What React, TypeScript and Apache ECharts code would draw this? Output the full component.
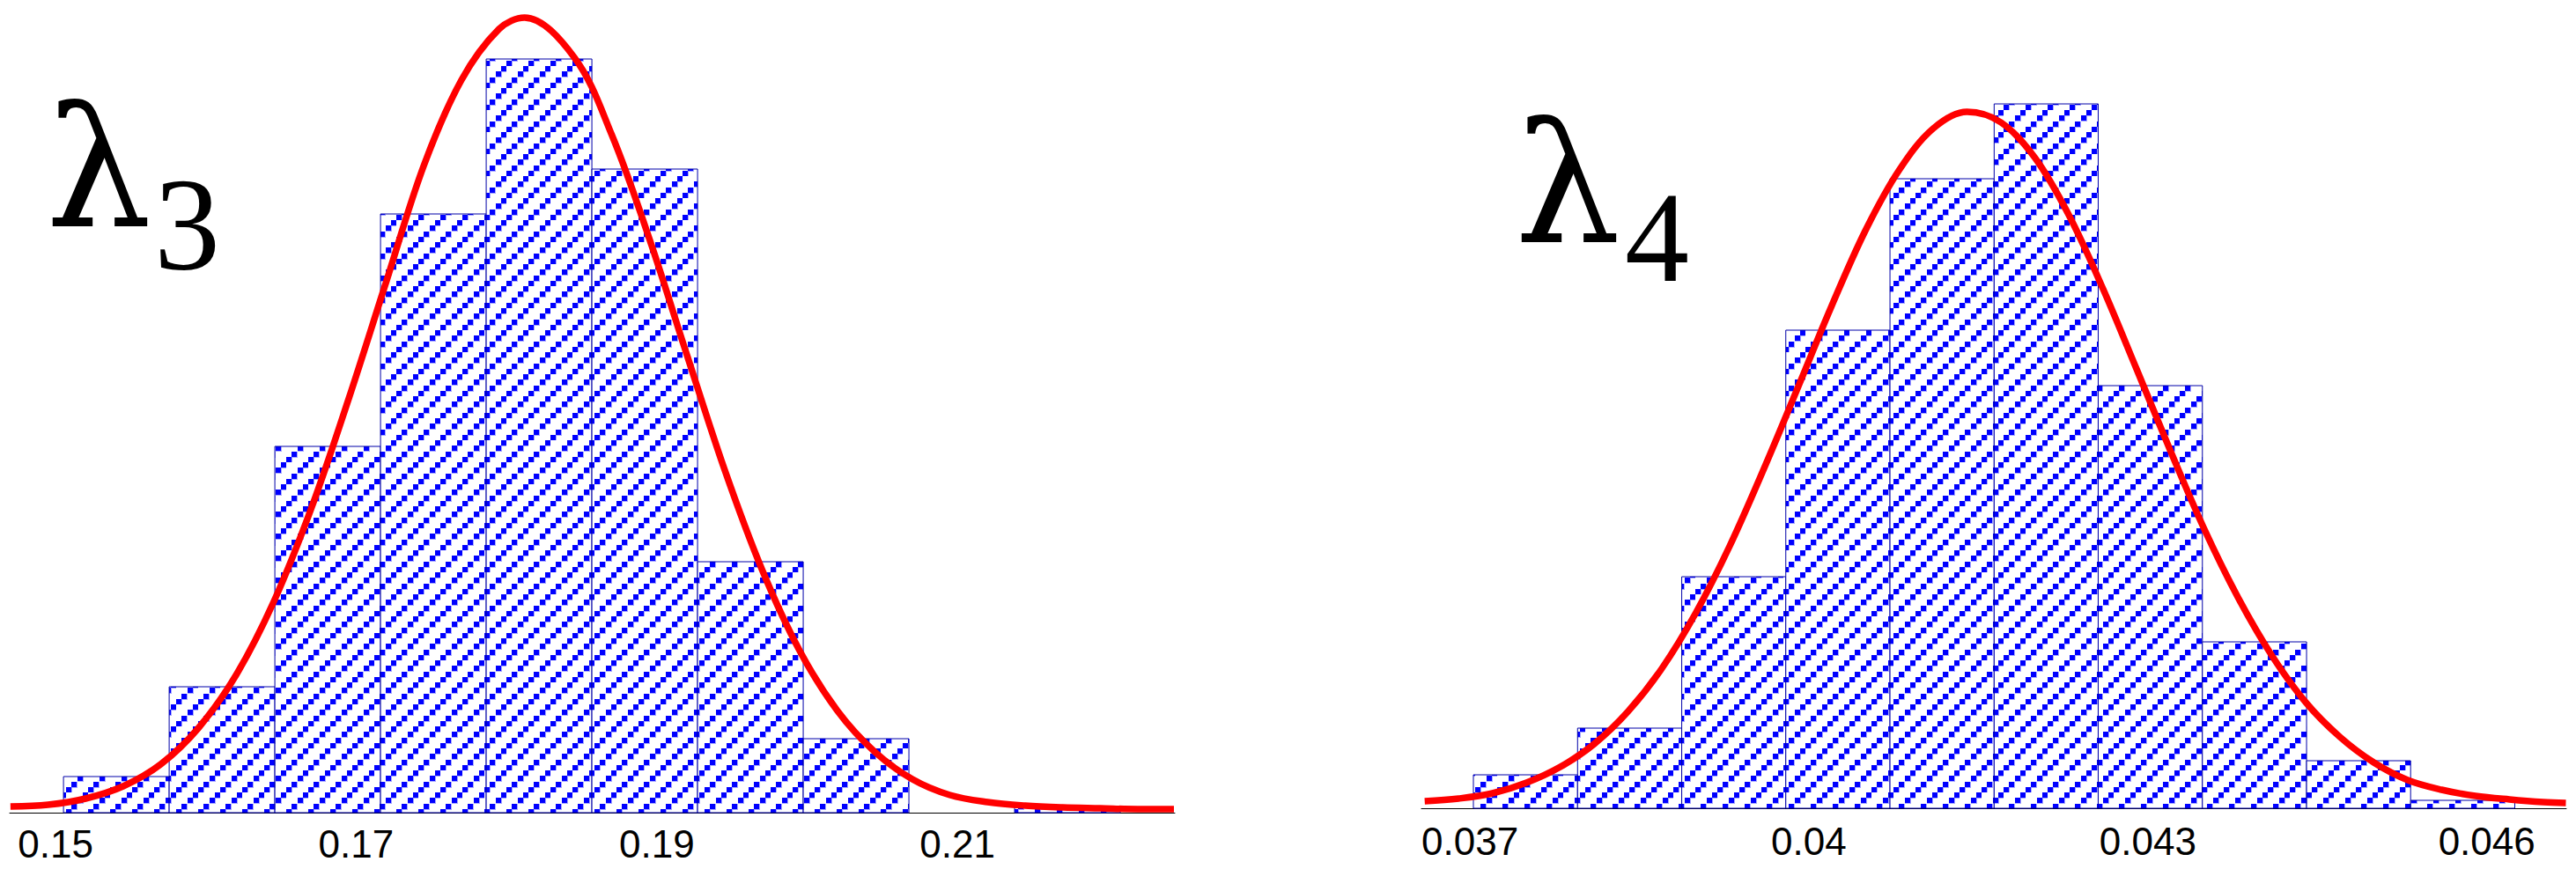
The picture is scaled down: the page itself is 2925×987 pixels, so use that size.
import React, { useEffect, useRef } from "react";
import * as echarts from "echarts";

// ---- λ3 panel data ----
const lambda3BinEdges = [0.15053, 0.15756, 0.16459, 0.17162, 0.17865, 0.18568, 0.19271, 0.19974, 0.20677, 0.2138, 0.22083];
const lambda3Counts = [41, 143, 416, 680, 856, 731, 285, 84, 0, 7];
const lambda3CurveX = [0.147, 0.1495, 0.152, 0.1545, 0.157, 0.1595, 0.162, 0.1645, 0.167, 0.1695, 0.172, 0.1745, 0.177, 0.1795, 0.1812, 0.1845, 0.187, 0.1895, 0.192, 0.1945, 0.197, 0.1995, 0.202, 0.2045, 0.207, 0.2095, 0.212, 0.2145, 0.217, 0.2195, 0.222, 0.2244];
const lambda3CurveY = [7, 9, 16, 30, 55, 96, 156, 239, 345, 470, 603, 735, 832, 890, 903, 858, 770, 652, 520, 390, 276, 184, 116, 69, 38, 20, 12, 8, 6, 5, 4, 4];
const lambda3TickValues = [0.15, 0.17, 0.19, 0.21];
const lambda3TickLabels = ["0.15", "0.17", "0.19", "0.21"];
const lambda3Range = [0.14695, 0.22446];

// ---- λ4 panel data ----
const lambda4BinEdges = [0.037031, 0.037953, 0.038875, 0.039796, 0.040718, 0.04164, 0.042561, 0.043483, 0.044405, 0.045326, 0.046248];
const lambda4Counts = [38, 91, 263, 543, 715, 800, 480, 189, 54, 9];
const lambda4CurveX = [0.0366, 0.0369, 0.0372, 0.0375, 0.0378, 0.0381, 0.0384, 0.0387, 0.039, 0.0393, 0.0396, 0.0399, 0.0402, 0.0405, 0.0408, 0.0411, 0.0414, 0.0417, 0.042, 0.0423, 0.0426, 0.0429, 0.0432, 0.0435, 0.0438, 0.0441, 0.0444, 0.0447, 0.045, 0.0453, 0.0456, 0.0459, 0.0462, 0.0465, 0.0467];
const lambda4CurveY = [8, 11, 17, 29, 47, 73, 110, 159, 222, 298, 385, 477, 570, 656, 725, 772, 791, 779, 739, 674, 591, 499, 406, 317, 239, 173, 120, 81, 52, 32, 21, 14, 10, 7, 6];
const lambda4TickValues = [0.037, 0.04, 0.043, 0.046];
const lambda4TickLabels = ["0.037", "0.04", "0.043", "0.046"];
const lambda4Range = [0.036571, 0.046704];

const Y_MAX = 910;

function makePattern(): HTMLCanvasElement {
  const c = document.createElement("canvas");
  c.width = 25;
  c.height = 25;
  const ctx = c.getContext("2d")!;
  ctx.fillStyle = "#ffffff";
  ctx.fillRect(0, 0, 25, 25);
  const pos = [[0, 19], [6, 13], [13, 6], [19, 0]];
  ctx.fillStyle = "#a8a8ff";
  pos.forEach(([x, y]) => ctx.fillRect(x, y, 7, 7));
  ctx.fillStyle = "#0000ff";
  pos.forEach(([x, y]) => ctx.fillRect(x, y, 6, 6));
  return c;
}

function binsData(edges: number[], counts: number[]) {
  return counts.map((c, i) => [edges[i], edges[i + 1], c]);
}

function curveData(xs: number[], ys: number[]) {
  return xs.map((x, i) => [x, ys[i]]);
}

function labelMap(values: number[], labels: string[]) {
  return (v: number) => {
    for (let i = 0; i < values.length; i++) {
      if (Math.abs(values[i] - v) < 1e-7) return labels[i];
    }
    return "";
  };
}

export default function App() {
  const ref = useRef<HTMLDivElement>(null);

  useEffect(() => {
    if (!ref.current) return;
    const chart = echarts.init(ref.current, undefined, { renderer: "svg" });
    const pattern = { image: makePattern(), repeat: "repeat" };

    const renderBar = (params: any, api: any) => {
      const x0 = api.value(0);
      const x1 = api.value(1);
      const h = api.value(2);
      if (!(h > 0)) return null;
      const p0 = api.coord([x0, h]);
      const p1 = api.coord([x1, 0]);
      return {
        type: "rect",
        shape: { x: p0[0], y: p0[1], width: p1[0] - p0[0], height: p1[1] - p0[1] },
        style: { fill: pattern, stroke: "#0000a8", lineWidth: 1 },
      };
    };

    const xAxisCommon = (range: number[], ticks: number[], labels: string[], margin: number, gridIndex: number) => ({
      gridIndex,
      type: "value",
      min: range[0],
      max: range[1],
      axisLine: { show: true, onZero: false, lineStyle: { color: "#000", width: 1 } },
      axisTick: { show: false },
      splitLine: { show: false },
      axisLabel: {
        show: true,
        customValues: ticks,
        formatter: labelMap(ticks, labels),
        margin,
        verticalAlign: "middle",
        fontFamily: "Liberation Sans",
        fontSize: 44,
        color: "#000",
      },
    });

    const lineSeries = (data: number[][], idx: number) => ({
      type: "line",
      xAxisIndex: idx,
      yAxisIndex: idx,
      data,
      showSymbol: false,
      smooth: 0.35,
      lineStyle: { color: "#ff0000", width: 7.5, cap: "butt" },
      z: 5,
      clip: false,
    });

    const textStyle = (text: string, fontSize: number, family: string) => ({
      text,
      fontSize,
      fontFamily: family,
      fill: "#000",
      align: "left",
      verticalAlign: "middle",
    });

    chart.setOption({
      animation: false,
      backgroundColor: "#ffffff",
      grid: [
        { left: 11, top: 13, width: 1323, height: Y_MAX },
        { left: 1614, top: 8, width: 1300, height: Y_MAX },
      ],
      xAxis: [
        xAxisCommon(lambda3Range, lambda3TickValues, lambda3TickLabels, 35, 0),
        xAxisCommon(lambda4Range, lambda4TickValues, lambda4TickLabels, 37, 1),
      ],
      yAxis: [
        { gridIndex: 0, type: "value", min: 0, max: Y_MAX, show: false },
        { gridIndex: 1, type: "value", min: 0, max: Y_MAX, show: false },
      ],
      series: [
        {
          type: "custom",
          xAxisIndex: 0,
          yAxisIndex: 0,
          data: binsData(lambda3BinEdges, lambda3Counts),
          encode: { x: [0, 1], y: 2 },
          renderItem: renderBar,
          z: 2,
        },
        {
          type: "custom",
          xAxisIndex: 1,
          yAxisIndex: 1,
          data: binsData(lambda4BinEdges, lambda4Counts),
          encode: { x: [0, 1], y: 2 },
          renderItem: renderBar,
          z: 2,
        },
        lineSeries(curveData(lambda3CurveX, lambda3CurveY), 0),
        lineSeries(curveData(lambda4CurveX, lambda4CurveY), 1),
      ],
      graphic: [
        { type: "text", x: 52, y: 191.5, style: textStyle("\u03bb", 190, "DejaVu Serif") },
        { type: "text", x: 175, y: 255, style: textStyle("3", 150, "Liberation Serif") },
        { type: "text", x: 1720, y: 209.5, style: textStyle("\u03bb", 190, "DejaVu Serif") },
        { type: "text", x: 1845, y: 270, style: textStyle("4", 146, "Liberation Serif") },
      ],
    });

    return () => chart.dispose();
  }, []);

  return (
    <div
      ref={ref}
      style={{ position: "absolute", left: 0, top: 0, width: 2925, height: 987, background: "#fff" }}
    />
  );
}
